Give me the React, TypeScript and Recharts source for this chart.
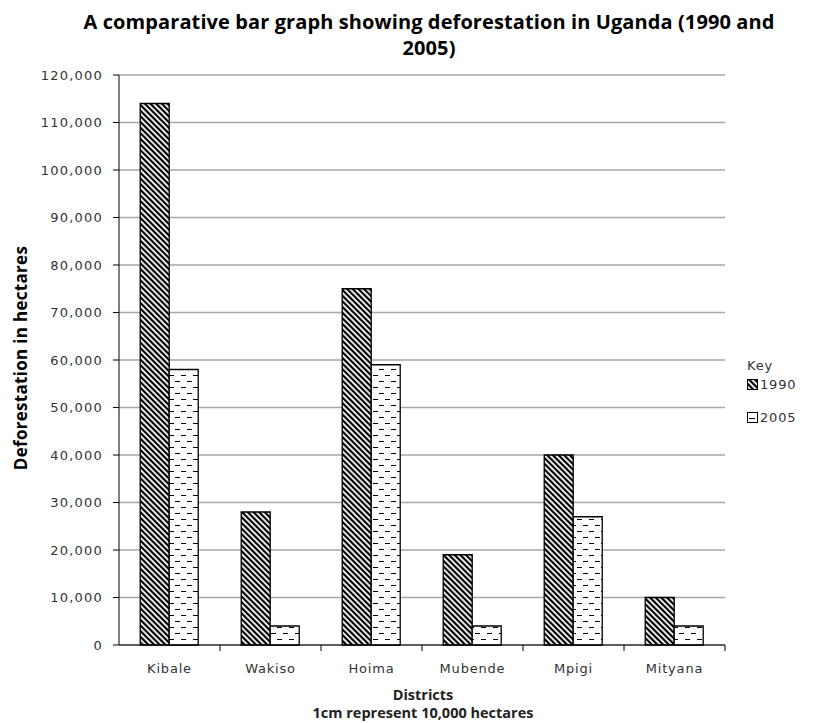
import { BarChart, Bar, XAxis, YAxis, CartesianGrid } from 'recharts'

const districts = ['Kibale', 'Wakiso', 'Hoima', 'Mubende', 'Mpigi', 'Mityana']
const values1990 = [114000, 28000, 75000, 19000, 40000, 10000]
const values2005 = [58000, 4000, 59000, 4000, 27000, 4000]
const yTicks = [0, 10000, 20000, 30000, 40000, 50000, 60000, 70000, 80000, 90000, 100000, 110000, 120000]

const data = districts.map((name, i) => ({
  name,
  y1990: values1990[i],
  y2005: values2005[i],
}))

const tickFont = { fontFamily: 'DejaVu Sans', fontSize: 13, letterSpacing: 1.2, fill: '#333' }
const boldFont = 'Open Sans'

// x ticks sit between categories, label in the middle
const DistrictTick = (props: any) => {
  const { x, y, payload, width } = props
  const band = width / districts.length
  return (
    <g>
      <line x1={x + band / 2} x2={x + band / 2} y1={y - 8} y2={y - 2} stroke="#000" />
      <text x={x} y={y + 20} textAnchor="middle" {...tickFont} letterSpacing={0.8}>
        {payload.value}
      </text>
    </g>
  )
}

export default function App() {
  return (
    <div style={{ position: 'fixed', top: 0, left: 0, width: 813, height: 723, background: '#fff', overflow: 'hidden' }}>
      <div
        style={{
          position: 'absolute',
          top: 9,
          left: 49,
          width: 760,
          textAlign: 'center',
          fontFamily: boldFont,
          fontWeight: 700,
          fontSize: 20,
          letterSpacing: 0.1,
          lineHeight: '26px',
          color: '#000',
        }}
      >
        A comparative bar graph showing deforestation in Uganda (1990 and
        <br />
        2005)
      </div>
      <BarChart
        width={813}
        height={723}
        data={data}
        margin={{ top: 75, right: 88, bottom: 48, left: 0 }}
        barCategoryGap="21%"
        barGap={0}
      >
        <defs>
          <pattern
            id="hatch1990"
            patternUnits="userSpaceOnUse"
            width={4}
            height={4}
            patternTransform="rotate(-45)"
          >
            <rect x={0} y={0} width={4} height={4} fill="#fff" />
            <rect x={0} y={0} width={2.2} height={4} fill="#000" />
          </pattern>
          <pattern id="dash2005" patternUnits="userSpaceOnUse" width={12} height={12}>
            <rect x={0} y={0} width={12} height={12} fill="#fff" />
            <line x1={1} x2={6} y1={3.5} y2={3.5} stroke="#000" strokeWidth={1} />
            <line x1={7} x2={12} y1={9.5} y2={9.5} stroke="#000" strokeWidth={1} />
          </pattern>
        </defs>
        <CartesianGrid vertical={false} stroke="#a6a6a6" strokeWidth={1.3} />
        <XAxis
          dataKey="name"
          height={30}
          stroke="#000"
          tickLine={false}
          tick={<DistrictTick />}
          interval={0}
        />
        <YAxis
          width={119}
          domain={[0, 120000]}
          ticks={yTicks}
          interval={0}
          stroke="#000"
          tickSize={6}
          tickMargin={10}
          tickFormatter={(v: number) => v.toLocaleString('en-US')}
          tick={tickFont}
        />
        <Bar dataKey="y1990" name="1990" fill="url(#hatch1990)" stroke="#000" strokeWidth={1.3} isAnimationActive={false} />
        <Bar dataKey="y2005" name="2005" fill="url(#dash2005)" stroke="#000" strokeWidth={1.3} isAnimationActive={false} />
      </BarChart>
      <div
        style={{
          position: 'absolute',
          left: 747,
          top: 358,
          fontFamily: 'DejaVu Sans',
          fontSize: 13,
          color: '#333',
          letterSpacing: 0.8,
        }}
      >
        <div style={{ marginBottom: 3 }}>Key</div>
        <div style={{ display: 'flex', alignItems: 'center', height: 16 }}>
          <svg width={11} height={11} style={{ marginRight: 2 }}>
            <rect x={0.5} y={0.5} width={10} height={10} fill="url(#hatch1990)" stroke="#000" />
          </svg>
          1990
        </div>
        <div style={{ display: 'flex', alignItems: 'center', height: 16, marginTop: 17 }}>
          <svg width={11} height={11} style={{ marginRight: 2 }}>
            <rect x={0.5} y={0.5} width={10} height={10} fill="#fff" stroke="#000" />
            <line x1={2} x2={8} y1={6.5} y2={6.5} stroke="#000" />
          </svg>
          2005
        </div>
      </div>
      <div
        style={{
          position: 'absolute',
          left: 20,
          top: 358,
          transform: 'translate(-50%, -50%) rotate(-90deg)',
          whiteSpace: 'nowrap',
          fontFamily: boldFont,
          fontWeight: 700,
          fontSize: 17,
          letterSpacing: 0.3,
          color: '#000',
        }}
      >
        Deforestation in hectares
      </div>
      <div
        style={{
          position: 'absolute',
          top: 686,
          left: 73,
          width: 700,
          textAlign: 'center',
          fontFamily: boldFont,
          fontWeight: 700,
          fontSize: 14.5,
          lineHeight: '18px',
          color: '#222',
        }}
      >
        <div>Districts</div>
        <div>1cm represent 10,000 hectares</div>
      </div>
    </div>
  )
}
